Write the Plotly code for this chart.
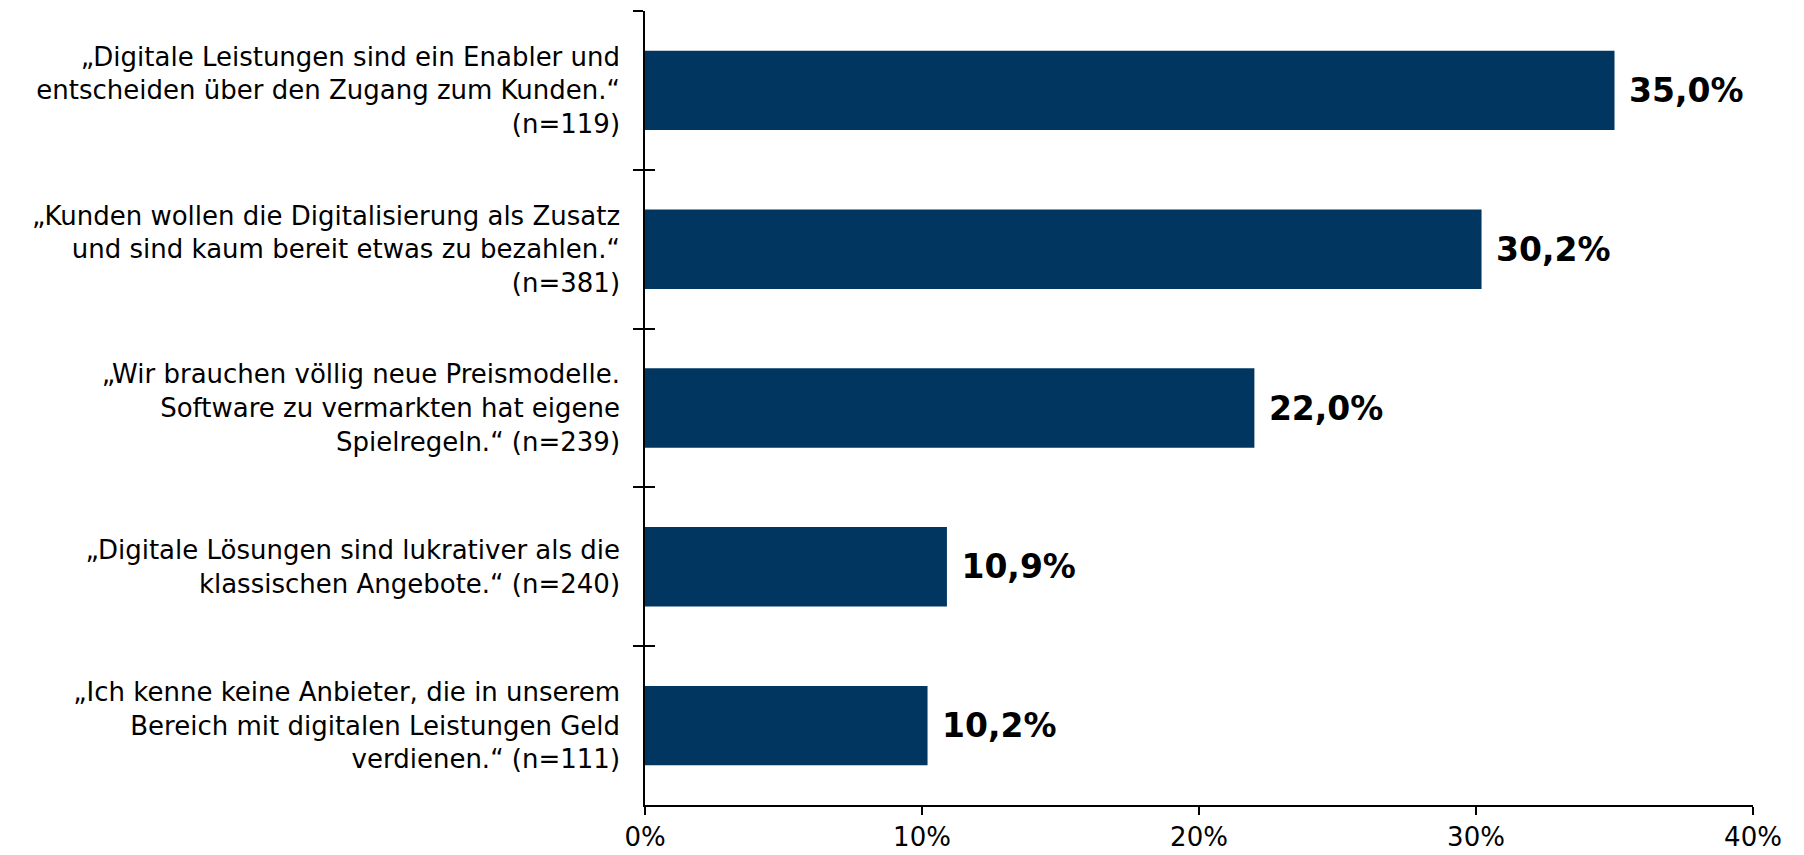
import plotly.graph_objects as go

# Statements (top to bottom) and their share of answers
statements = [
    "\u201eDigitale Leistungen sind ein Enabler und<br>entscheiden über den Zugang zum Kunden.\u201c<br>(n=119)",
    "\u201eKunden wollen die Digitalisierung als Zusatz<br>und sind kaum bereit etwas zu bezahlen.\u201c<br>(n=381)",
    "\u201eWir brauchen völlig neue Preismodelle.<br>Software zu vermarkten hat eigene<br>Spielregeln.\u201c (n=239)",
    "\u201eDigitale Lösungen sind lukrativer als die<br>klassischen Angebote.\u201c (n=240)",
    "\u201eIch kenne keine Anbieter, die in unserem<br>Bereich mit digitalen Leistungen Geld<br>verdienen.\u201c (n=111)",
]
shares = [0.350, 0.302, 0.220, 0.109, 0.102]

x_ticks = [0, 0.1, 0.2, 0.3, 0.4]

FONT = "DejaVu Sans"
BAR_COLOR = "#003660"

fig = go.Figure()

fig.add_trace(
    go.Bar(
        x=shares,
        y=statements,
        orientation="h",
        width=0.5,
        marker={"color": BAR_COLOR, "line": {"width": 0}},
        texttemplate="\u00a0%{x:.1%}",
        textposition="outside",
        textfont={"family": FONT, "size": 33, "color": "black", "weight": "bold"},
        cliponaxis=False,
        hoverinfo="skip",
    )
)

# invisible copy on a second y axis, only used to get ticks on the inner side too
fig.add_trace(
    go.Scatter(
        x=shares,
        y=statements,
        yaxis="y2",
        mode="markers",
        marker={"opacity": 0},
        showlegend=False,
        hoverinfo="skip",
    )
)

common_y = dict(
    type="category",
    categoryorder="array",
    categoryarray=statements,
    range=[len(statements) - 0.5, -0.5],
    tickson="boundaries",
    ticklen=10,
    tickwidth=1.5,
    tickcolor="black",
    showgrid=False,
    zeroline=False,
)

# page body has an 8px margin, so the figure is 8px smaller than the window
fig.update_layout(
    width=1796,
    height=847,
    margin={"l": 637, "r": 51, "t": 3, "b": 50},
    plot_bgcolor="white",
    paper_bgcolor="white",
    showlegend=False,
    separators=",.",
    font={"family": FONT, "size": 26, "color": "black"},
    xaxis=dict(
        range=[0, 0.4],
        tickvals=x_ticks,
        tickformat=".0%",
        ticks="outside",
        ticklen=8,
        tickwidth=1.5,
        tickcolor="black",
        showline=True,
        linecolor="black",
        linewidth=1.5,
        showgrid=False,
        zeroline=False,
        tickfont={"size": 26},
    ),
    yaxis=dict(
        **common_y,
        ticks="outside",
        showline=True,
        linecolor="black",
        linewidth=1.5,
        ticklabelstandoff=18,
        tickfont={"size": 26},
    ),
    yaxis2=dict(
        **common_y,
        overlaying="y",
        anchor="x",
        side="left",
        ticks="inside",
        showticklabels=False,
        showline=False,
    ),
)

fig.write_html("out.html")
